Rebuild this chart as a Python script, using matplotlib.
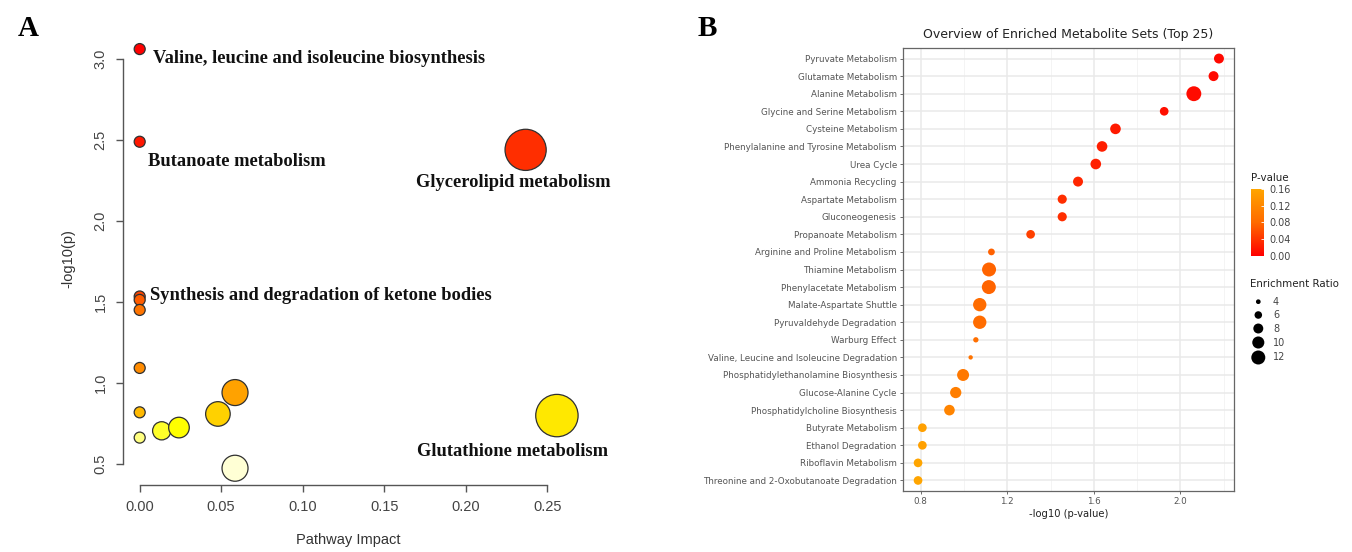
import colorsys
import numpy as np
import matplotlib
matplotlib.use("Agg")
import matplotlib.pyplot as plt
from matplotlib.colors import LinearSegmentedColormap, Normalize
from matplotlib.colorbar import ColorbarBase

# ---------------- Panel A: pathway analysis ----------------
pathway_impact = [0.0, 0.0, 0.2368, 0.0, 0.0, 0.0, 0.0, 0.0, 0.0,
                  0.0135, 0.0241, 0.048, 0.0585, 0.0585, 0.256]
pathway_logp = [3.062, 2.49, 2.44, 1.535, 1.514, 1.452, 1.094, 0.82, 0.664,
                0.706, 0.726, 0.81, 0.942, 0.475, 0.80]
pathway_label = ["Valine, leucine and isoleucine biosynthesis",
                 "Butanoate metabolism",
                 "Glycerolipid metabolism",
                 "", "Synthesis and degradation of ketone bodies", "",
                 "", "", "", "", "", "", "", "",
                 "Glutathione metabolism"]
a_xticks = [0.00, 0.05, 0.10, 0.15, 0.20, 0.25]
a_yticks = [0.5, 1.0, 1.5, 2.0, 2.5, 3.0]

# ---------------- Panel B: enrichment overview ----------------
set_names = ["Pyruvate Metabolism", "Glutamate Metabolism", "Alanine Metabolism",
             "Glycine and Serine Metabolism", "Cysteine Metabolism",
             "Phenylalanine and Tyrosine Metabolism", "Urea Cycle",
             "Ammonia Recycling", "Aspartate Metabolism", "Gluconeogenesis",
             "Propanoate Metabolism", "Arginine and Proline Metabolism",
             "Thiamine Metabolism", "Phenylacetate Metabolism",
             "Malate-Aspartate Shuttle", "Pyruvaldehyde Degradation",
             "Warburg Effect", "Valine, Leucine and Isoleucine Degradation",
             "Phosphatidylethanolamine Biosynthesis", "Glucose-Alanine Cycle",
             "Phosphatidylcholine Biosynthesis", "Butyrate Metabolism",
             "Ethanol Degradation", "Riboflavin Metabolism",
             "Threonine and 2-Oxobutanoate Degradation"]
set_neglogp = [2.178, 2.153, 2.062, 1.925, 1.70, 1.638, 1.609, 1.527, 1.454,
               1.454, 1.308, 1.127, 1.116, 1.115, 1.073, 1.073, 1.055, 1.031,
               0.996, 0.962, 0.933, 0.808, 0.808, 0.788, 0.788]
set_ratio = [8.0, 8.0, 13.0, 6.9, 8.6, 8.6, 8.6, 8.0, 7.3, 7.3, 6.9, 5.4, 12.0,
             12.0, 11.3, 11.3, 4.4, 3.8, 9.9, 9.2, 8.6, 6.9, 6.9, 6.9, 6.9]
b_xticks = [0.8, 1.2, 1.6, 2.0]
b_minor = [1.0, 1.4, 1.8, 2.2]
pval_ticks = [0.00, 0.04, 0.08, 0.12, 0.16]
ratio_legend = [4, 6, 8, 10, 12]

W, H = 1352, 552
DPI = 100
fig = plt.figure(figsize=(W / DPI, H / DPI), dpi=DPI)
fig.patch.set_facecolor("white")


def px_box(left, top, right, bottom):
    return [left / W, (H - bottom) / H, (right - left) / W, (bottom - top) / H]


def heat_colors(n):
    """R's heat.colors palette."""
    j = n // 4
    i = n - j
    cols = [colorsys.hsv_to_rgb(h, 1, 1) for h in np.linspace(0, 1 / 6, i)]
    if j > 0:
        for s in np.linspace(1 - 1 / (2 * j), 1 / (2 * j), j):
            cols.append(colorsys.hsv_to_rgb(1 / 6, s, 1))
    return cols


serif = "Liberation Serif"
arial = "Liberation Sans"

# ---- Panel A ----
imp = np.array(pathway_impact)
lp = np.array(pathway_logp)
axA = fig.add_axes(px_box(123, 32.3, 573.6, 485))
xr = imp.max() - imp.min()
yr = lp.max() - lp.min()
axA.set_xlim(imp.min() - 0.04 * xr, imp.max() + 0.04 * xr)
axA.set_ylim(lp.min() - 0.04 * yr, lp.max() + 0.04 * yr)

palette = heat_colors(len(lp))
order = np.argsort(-lp, kind="stable")
cols = [None] * len(lp)
for rank, idx in enumerate(order):
    cols[idx] = palette[rank]
diam_px = 11 + 62 * np.sqrt(imp)
sizes = (diam_px * 72 / DPI) ** 2
axA.scatter(imp, lp, s=sizes, c=cols, edgecolors="#303030", linewidths=0.9,
            zorder=3, clip_on=False)

label_style = {
    "Valine, leucine and isoleucine biosynthesis": ((13, -9), "left"),
    "Butanoate metabolism": ((8, -19.5), "left"),
    "Glycerolipid metabolism": ((-12, -33), "center"),
    "Synthesis and degradation of ketone bodies": ((10, 4), "left"),
    "Glutathione metabolism": ((-44, -36), "center"),
}
for x, y, name in zip(imp, lp, pathway_label):
    if not name:
        continue
    off, ha = label_style[name]
    axA.annotate(name, (x, y), xytext=off, textcoords="offset pixels",
                 ha=ha, va="center", fontsize=13.35, fontweight="bold",
                 family=serif, color="#111111", zorder=4)

for sp in ["top", "right"]:
    axA.spines[sp].set_visible(False)
axA.spines["left"].set_bounds(a_yticks[0], a_yticks[-1])
axA.spines["bottom"].set_bounds(a_xticks[0], a_xticks[-1])
for sp in ["left", "bottom"]:
    axA.spines[sp].set_color("#555555")
    axA.spines[sp].set_linewidth(1.0)
axA.set_xticks(a_xticks)
axA.set_xticklabels([f"{v:.2f}" for v in a_xticks])
axA.set_yticks(a_yticks)
axA.set_yticklabels([f"{v:.1f}" for v in a_yticks], rotation=90, va="center")
axA.tick_params(direction="out", length=5, width=1.0, color="#555555",
                labelsize=10.5, labelcolor="#444444", pad=6)
for t in axA.get_xticklabels() + axA.get_yticklabels():
    t.set_family(arial)
axA.set_xlabel("Pathway Impact", fontsize=10.5, family=arial, color="#333333")
axA.set_ylabel("-log10(p)", fontsize=10.5, family=arial, color="#333333")
axA.xaxis.set_label_coords(0.5, -0.106)
axA.yaxis.set_label_coords(-0.106, 0.5)

# ---- Panel B ----
sans = "DejaVu Sans"
xb = np.array(set_neglogp)
pv = 10 ** (-xb)
rb = np.array(set_ratio)
n = len(set_names)
ypos = np.arange(n)[::-1]

axB = fig.add_axes(px_box(903, 48, 1234, 491))
xrng = xb.max() - xb.min()
axB.set_xlim(xb.min() - 0.05 * xrng, xb.max() + 0.05 * xrng)
axB.set_ylim(-0.6, n - 1 + 0.6)
axB.set_facecolor("white")

for v in b_minor:
    axB.axvline(v, color="#F3F3F3", lw=0.6, zorder=0)
for v in b_xticks:
    axB.axvline(v, color="#E9E9E9", lw=1.1, zorder=0)
for y in ypos:
    axB.axhline(y, color="#E9E9E9", lw=1.1, zorder=0)

cmap_b = LinearSegmentedColormap.from_list("pv", ["#FF0000", "#FF6A00", "#FFA500"])
norm_b = Normalize(vmin=0.0, vmax=pv.max())


def ratio_diam(r):
    return 6.35 * np.sqrt(r) - 8.0


axB.scatter(xb, ypos, s=(ratio_diam(rb) * 72 / DPI) ** 2, c=pv, cmap=cmap_b,
            norm=norm_b, edgecolors="none", zorder=3)

axB.set_yticks(ypos)
axB.set_yticklabels(set_names)
axB.set_xticks(b_xticks)
axB.set_xticklabels([f"{v:.1f}" for v in b_xticks])
axB.tick_params(axis="both", direction="out", length=2.5, width=0.6,
                color="#555555", labelcolor="#555555", labelsize=6.3, pad=2)
for t in axB.get_xticklabels() + axB.get_yticklabels():
    t.set_family(sans)
for sp in axB.spines.values():
    sp.set_color("#666666")
    sp.set_linewidth(0.9)
axB.set_xlabel("-log10 (p-value)", fontsize=7.2, family=sans, color="#222222",
               labelpad=2)
axB.set_title("Overview of Enriched Metabolite Sets (Top 25)", fontsize=9,
              family=sans, color="#222222", pad=7)

# colour legend
cax = fig.add_axes(px_box(1250.5, 189, 1263.5, 255.7))
cb = ColorbarBase(cax, cmap=cmap_b, norm=Normalize(vmin=0.0, vmax=pval_ticks[-1]),
                  orientation="vertical")
cb.outline.set_visible(False)
cb.set_ticks(pval_ticks)
cb.set_ticklabels([f"{v:.2f}" for v in pval_ticks])
cax.tick_params(length=2, width=0.6, color="white", direction="in",
                labelsize=7, labelcolor="#444444", pad=4)
for t in cax.get_yticklabels():
    t.set_family(sans)

# overlay for legend titles, size key and panel letters (pixel coordinates)
ov = fig.add_axes([0, 0, 1, 1], facecolor="none")
ov.set_xlim(0, W)
ov.set_ylim(H, 0)
ov.axis("off")
ov.text(1250.5, 178, "P-value", fontsize=7.4, family=sans, color="#222222",
        ha="left", va="center")
ov.text(1250.5, 284, "Enrichment Ratio", fontsize=7.4, family=sans,
        color="#222222", ha="left", va="center")
key_y = [301.7, 315.0, 328.5, 342.5, 357.5]
for r, ky in zip(ratio_legend, key_y):
    ov.scatter([1258.3], [ky], s=(ratio_diam(r) * 72 / DPI) ** 2, c="black",
               edgecolors="none")
    ov.text(1273, ky, str(r), fontsize=7, family=sans, color="#444444",
            ha="left", va="center")

ov.text(28, 28, "A", fontsize=21, fontweight="bold", family=serif,
        ha="center", va="center", color="black")
ov.text(707, 28, "B", fontsize=21, fontweight="bold", family=serif,
        ha="center", va="center", color="black")

fig.savefig("out.png", dpi=DPI, facecolor="white")
